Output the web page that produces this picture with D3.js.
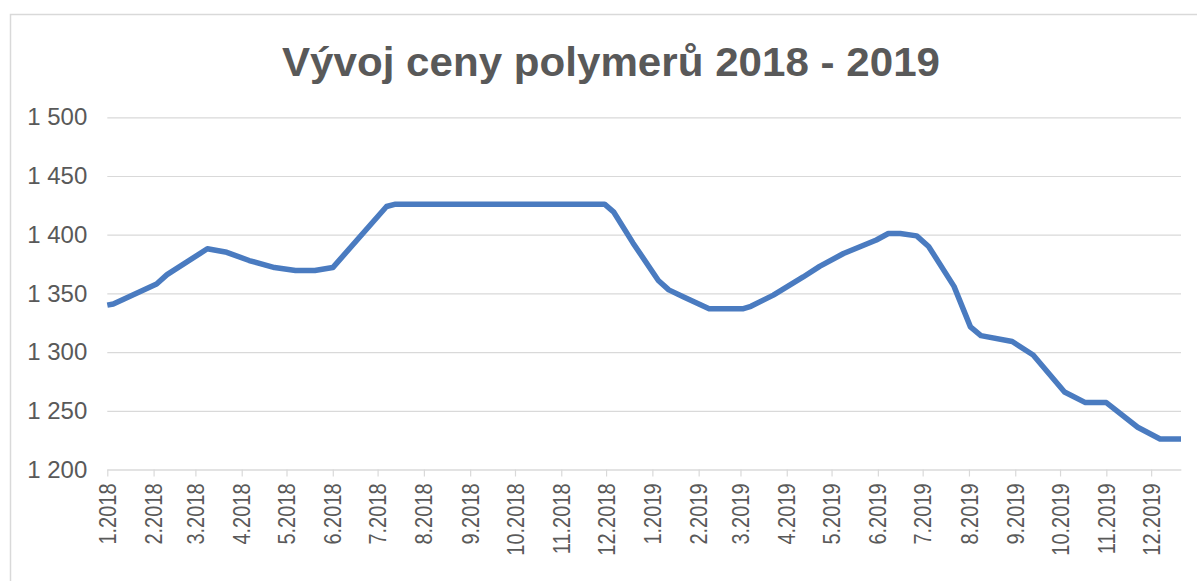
<!DOCTYPE html>
<html>
<head>
<meta charset="utf-8">
<script src="https://cdn.jsdelivr.net/npm/d3@7"></script>
<style>
  html, body { margin: 0; padding: 0; background: #ffffff; }
  svg { display: block; }
</style>
</head>
<body>
<svg id="chart" width="1197" height="581"></svg>
<script>
// ---- data ----
const title = "Vývoj ceny polymerů 2018 - 2019";
const dates = [
  "2018-01-01","2018-01-05","2018-02-03","2018-02-10","2018-03-09","2018-03-22",
  "2018-04-06","2018-04-23","2018-05-07","2018-05-20","2018-06-01","2018-07-07",
  "2018-07-13","2018-11-30","2018-12-06","2018-12-19","2019-01-05","2019-01-12",
  "2019-01-22","2019-02-08","2019-03-03","2019-03-08","2019-03-23","2019-04-12",
  "2019-04-23","2019-05-09","2019-05-31","2019-06-08","2019-06-16","2019-06-27",
  "2019-07-05","2019-07-22","2019-08-02","2019-08-09","2019-08-30","2019-09-13",
  "2019-10-04","2019-10-18","2019-11-01","2019-11-22","2019-12-07","2019-12-21"
];
const prices = [
  1340, 1341, 1358, 1366, 1388, 1385,
  1378, 1372, 1369.5, 1369.5, 1372, 1424,
  1426, 1426, 1419.5, 1393, 1361, 1353,
  1347, 1337, 1337, 1339, 1348.5, 1364,
  1373, 1384, 1395.5, 1401, 1401, 1399,
  1390, 1356, 1321.5, 1314, 1309, 1297.5,
  1266, 1257, 1257, 1236, 1226, 1226
];
const xTickLabels = [
  "1.2018","2.2018","3.2018","4.2018","5.2018","6.2018",
  "7.2018","8.2018","9.2018","10.2018","11.2018","12.2018",
  "1.2019","2.2019","3.2019","4.2019","5.2019","6.2019",
  "7.2019","8.2019","9.2019","10.2019","11.2019","12.2019"
];
const yTicks = [1200, 1250, 1300, 1350, 1400, 1450, 1500];

// ---- layout ----
const W = 1197, H = 581;
const plot = { left: 107.3, right: 1181, top: 117.3, bottom: 469.5 };
const textColor = "#595959";
const gridColor = "#d9d9d9";
const lineColor = "#4a7bc0";
const font = "'Liberation Sans', Arial, Helvetica, sans-serif";

const parse = d3.timeParse("%Y-%m-%d");
const parseTick = d3.timeParse("%-m.%Y");
const data = dates.map((d, i) => ({ date: parse(d), value: prices[i] }));
const tickDates = xTickLabels.map(l => parseTick(l));

const svg = d3.select("#chart");

// chart frame (cropped at right/bottom)
svg.append("rect")
  .attr("x", 10.5).attr("y", 14.5)
  .attr("width", W + 50).attr("height", H + 50)
  .attr("fill", "#ffffff")
  .attr("stroke", gridColor).attr("stroke-width", 1.5);

const x = d3.scaleTime()
  .domain([data[0].date, data[data.length - 1].date])
  .range([plot.left, plot.right]);

const y = d3.scaleLinear()
  .domain([1200, 1500])
  .range([plot.bottom, plot.top]);

const loc = d3.formatLocale({ decimal: ",", thousands: " ", grouping: [3], currency: ["", ""] });
const yFmt = loc.format(",");

// title
svg.append("text")
  .attr("x", 611).attr("y", 76)
  .attr("text-anchor", "middle")
  .attr("font-family", font)
  .attr("font-weight", "bold")
  .attr("font-size", 40)
  .attr("fill", textColor)
  .attr("textLength", 658)
  .attr("lengthAdjust", "spacingAndGlyphs")
  .text(title);

// y axis (gridlines + labels)
const yAxis = d3.axisLeft(y)
  .tickValues(yTicks)
  .tickSize(-(plot.right - plot.left))
  .tickPadding(20)
  .tickFormat(yFmt);

const gy = svg.append("g")
  .attr("transform", `translate(${plot.left},0)`)
  .call(yAxis);
gy.select(".domain").remove();
gy.selectAll(".tick line").attr("stroke", gridColor).attr("stroke-width", 1.2);
gy.selectAll(".tick text")
  .attr("fill", textColor)
  .attr("font-family", font)
  .attr("font-size", 24);

// x axis
const xAxis = d3.axisBottom(x)
  .tickValues(tickDates)
  .tickSize(7)
  .tickSizeOuter(0)
  .tickFormat((d, i) => xTickLabels[i]);

const gx = svg.append("g")
  .attr("transform", `translate(0,${plot.bottom})`)
  .call(xAxis);
gx.select(".domain").attr("stroke", gridColor).attr("stroke-width", 1.2);
gx.selectAll(".tick line").attr("stroke", gridColor).attr("stroke-width", 1.2);
gx.selectAll(".tick text")
  .attr("fill", textColor)
  .attr("font-family", font)
  .attr("font-size", 23.5)
  .attr("text-anchor", "end")
  .attr("dominant-baseline", "central")
  .attr("x", 0).attr("y", 0).attr("dy", null)
  .attr("transform", "translate(0,14) rotate(-90) scale(0.85,1)");

// line
const line = d3.line()
  .x(d => x(d.date))
  .y(d => y(d.value));

svg.append("path")
  .datum(data)
  .attr("d", line)
  .attr("fill", "none")
  .attr("stroke", lineColor)
  .attr("stroke-width", 5.5)
  .attr("stroke-linejoin", "round")
  .attr("stroke-linecap", "butt");
</script>
</body>
</html>
